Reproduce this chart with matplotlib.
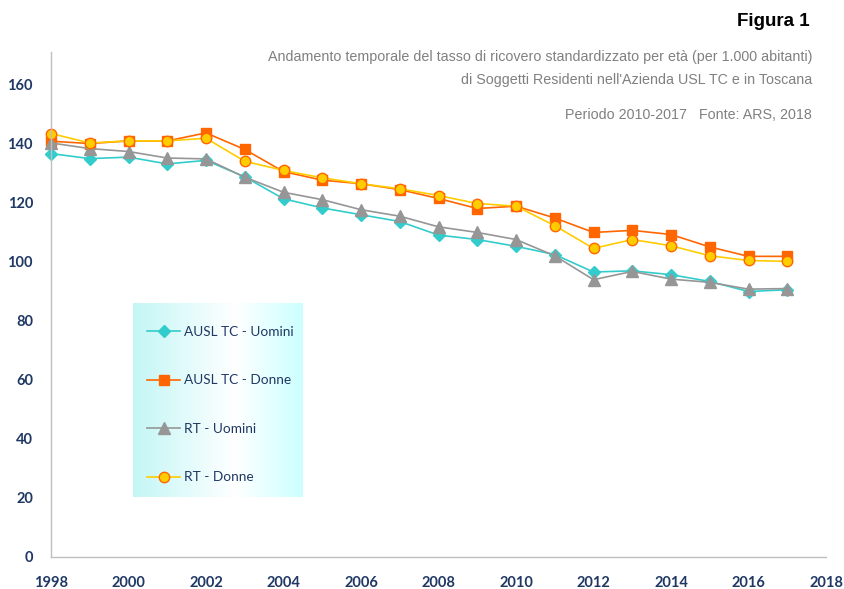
import matplotlib
matplotlib.use("Agg")
import matplotlib.pyplot as plt
import numpy as np
from matplotlib.colors import LinearSegmentedColormap


OUTPUT = "out.png"

YEARS = list(range(1998, 2018))
AUSL_UOMINI = [136.6, 134.9, 135.4, 133.1, 134.3, 128.7, 121.3, 118.2, 115.9, 113.6,
               109.0, 107.5, 105.2, 102.4, 96.5, 96.9, 95.6, 93.3, 89.9, 90.5]
AUSL_DONNE = [140.8, 140.0, 140.9, 140.9, 143.6, 138.0, 130.5, 127.6, 126.4, 124.4,
              121.4, 118.0, 118.8, 114.8, 109.9, 110.6, 109.2, 105.0, 101.8, 101.8]
RT_UOMINI = [140.2, 138.3, 137.3, 135.1, 134.8, 128.6, 123.5, 121.0, 117.6, 115.4,
             111.8, 109.9, 107.5, 102.0, 93.9, 96.7, 94.1, 93.0, 90.7, 90.9]
RT_DONNE = [143.4, 140.2, 140.9, 140.9, 141.8, 134.0, 130.9, 128.4, 126.4, 124.7,
            122.4, 119.7, 118.8, 112.2, 104.5, 107.5, 105.4, 102.0, 100.4, 100.1]

SERIES = [
    ("AUSL TC - Uomini", AUSL_UOMINI, "#33CCCC", "D", "#33CCCC", 6.5),
    ("AUSL TC - Donne", AUSL_DONNE, "#FF6600", "s", "#FF6600", 7.5),
    ("RT - Uomini", RT_UOMINI, "#969696", "^", "#969696", 8),
    ("RT - Donne", RT_DONNE, "#FFCC00", "o", "#FF6600", 7.5),
]

NAVY = "#1F3864"
GREY = "#808080"
W, H = 844, 589


def main():
    fig = plt.figure(figsize=(W / 100, H / 100), dpi=100)
    ax = fig.add_axes([51 / W, 32 / H, 775 / W, 505 / H])

    handles = []
    for label, values, color, marker, edge, size in SERIES:
        (line,) = ax.plot(
            YEARS, values, color=color, marker=marker, markersize=size,
            markerfacecolor=color, markeredgecolor=edge, markeredgewidth=1.0,
            linewidth=1.2, label=label, clip_on=False,
        )
        handles.append(line)

    ax.set_xlim(1998, 2018)
    ax.set_ylim(0, 171)
    ax.set_xticks(range(1998, 2019, 2))
    ax.set_yticks(range(0, 161, 20))
    ax.tick_params(length=0, labelsize=10.5, labelcolor=NAVY)
    ax.tick_params(axis="x", pad=14)
    ax.tick_params(axis="y", pad=13)
    for lab in ax.get_xticklabels() + ax.get_yticklabels():
        lab.set_fontfamily("Lato")
        lab.set_fontweight("bold")
    ax.spines[["top", "right"]].set_visible(False)
    ax.spines[["left", "bottom"]].set_color("#BFBFBF")
    ax.spines[["left", "bottom"]].set_linewidth(1.0)

    # legend box with horizontal cyan-white gradient
    lax = fig.add_axes([133 / W, 92 / H, 170 / W, 194 / H])
    cmap = LinearSegmentedColormap.from_list(
        "bg", [(0, "#C4F6F6"), (0.6, "#FFFFFF"), (1, "#CCFFFF")]
    )
    lax.imshow(np.linspace(0, 1, 256)[None, :], aspect="auto", cmap=cmap,
               extent=[0, 1, 0, 1])
    lax.set_axis_off()
    lax.legend(
        handles, [h.get_label() for h in handles], loc="upper left",
        bbox_to_anchor=(0.05, 0.91), frameon=False, labelspacing=2.68,
        handlelength=2.45, handletextpad=0.3, borderaxespad=0,
        prop={"family": "Lato", "size": 9.8}, labelcolor=NAVY,
    )

    fig.text(810 / W, 1 - 21 / H, "Figura 1", ha="right", va="center",
             fontsize=13.5, fontweight="bold", family="Liberation Sans")
    sub = {"ha": "right", "va": "center", "color": GREY, "fontsize": 10.3,
           "family": ["Liberation Sans Narrow", "Liberation Sans"]}
    fig.text(812 / W, 1 - 57 / H,
             "Andamento temporale del tasso di ricovero standardizzato per età (per 1.000 abitanti)",
             **sub)
    fig.text(812 / W, 1 - 80 / H,
             "di Soggetti Residenti nell'Azienda USL TC e in Toscana", **sub)
    fig.text(812 / W, 1 - 115 / H, "Periodo 2010-2017   Fonte: ARS, 2018", **sub)

    fig.savefig(OUTPUT, dpi=100)
    plt.close(fig)


if __name__ == "__main__":
    main()
